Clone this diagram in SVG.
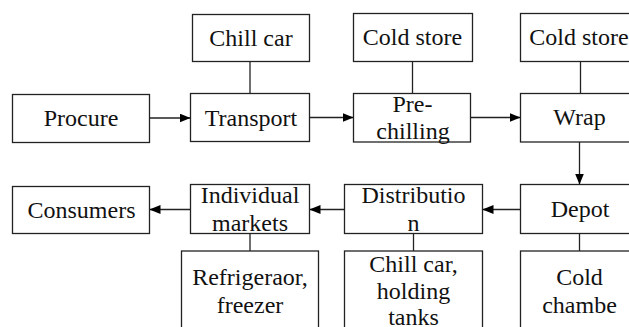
<svg xmlns="http://www.w3.org/2000/svg" width="629" height="327" viewBox="0 0 629 327">
<defs>
<style>
rect{fill:#fff;stroke:#222;stroke-width:1.3}
.c line{stroke:#222;stroke-width:1.3}
text{font-family:"Liberation Serif","Times New Roman",serif;font-size:24px;fill:#111;text-anchor:middle}
</style>
<marker id="ah" markerWidth="11" markerHeight="9" refX="11" refY="4.5" orient="auto" markerUnits="userSpaceOnUse">
<path d="M0,0 L11,4.5 L0,9 Z" fill="#000"/>
</marker>
</defs>
<g id="procure"><rect x="12.5" y="94.5" width="137" height="48"/><text x="81" y="126">Procure</text></g>
<g id="chillcar"><rect x="192.5" y="14.5" width="117" height="47"/><text x="251" y="46">Chill car</text></g>
<g id="transport"><rect x="190.5" y="93.5" width="119" height="48"/><text x="251" y="126">Transport</text></g>
<g id="coldstore1"><rect x="353.5" y="13.5" width="119" height="48"/><text x="412.5" y="45">Cold store</text></g>
<g id="prechilling"><rect x="353.5" y="93.5" width="117" height="48.5"/><text x="412.5" y="111.5">Pre-</text><text x="413" y="139">chilling</text></g>
<g id="coldstore2"><rect x="520.5" y="13.5" width="119" height="48"/><text x="579" y="45">Cold store</text></g>
<g id="wrap"><rect x="520.5" y="93.5" width="119" height="48.5"/><text x="579.5" y="125">Wrap</text></g>
<g id="depot"><rect x="520.5" y="184.5" width="119" height="49"/><text x="580" y="216.5">Depot</text></g>
<g id="distribution"><rect x="344.5" y="184.5" width="138" height="49"/><text x="413.5" y="203.3">Distributio</text><text x="413.5" y="231">n</text></g>
<g id="markets"><rect x="190.5" y="184.5" width="119" height="49"/><text x="250" y="203.3">Individual</text><text x="250" y="231">markets</text></g>
<g id="consumers"><rect x="12.5" y="186.5" width="137" height="47"/><text x="81.5" y="218.3">Consumers</text></g>
<g id="refrigerator"><rect x="181.5" y="251" width="137" height="90"/><text x="250" y="285">Refrigeraor,</text><text x="250" y="313.3">freezer</text></g>
<g id="chillcar2"><rect x="344.5" y="251" width="138" height="90"/><text x="413.5" y="271.7">Chill car,</text><text x="413.5" y="299.3">holding</text><text x="413.5" y="325">tanks</text></g>
<g id="coldchamber"><rect x="520.5" y="251" width="119" height="90"/><text x="579.5" y="285">Cold</text><text x="579.5" y="312.7">chambe</text></g>
<g class="c" id="connectors">
<line x1="149.5" y1="118" x2="190.5" y2="118" marker-end="url(#ah)"/>
<line x1="309.5" y1="117.5" x2="353.5" y2="117.5" marker-end="url(#ah)"/>
<line x1="470.5" y1="117.5" x2="520.5" y2="117.5" marker-end="url(#ah)"/>
<line x1="579.5" y1="142" x2="579.5" y2="184.5" marker-end="url(#ah)"/>
<line x1="520.5" y1="209.5" x2="482.5" y2="209.5" marker-end="url(#ah)"/>
<line x1="344.5" y1="209.5" x2="309.5" y2="209.5" marker-end="url(#ah)"/>
<line x1="190.5" y1="209.5" x2="149.5" y2="209.5" marker-end="url(#ah)"/>
<line x1="250" y1="61.5" x2="250" y2="93.5"/>
<line x1="412.5" y1="61.5" x2="412.5" y2="93.5"/>
<line x1="580.5" y1="61.5" x2="580.5" y2="93.5"/>
<line x1="250" y1="233.5" x2="250" y2="251"/>
<line x1="413.5" y1="233.5" x2="413.5" y2="251"/>
<line x1="579.5" y1="233.5" x2="579.5" y2="251"/>
</g>
</svg>
